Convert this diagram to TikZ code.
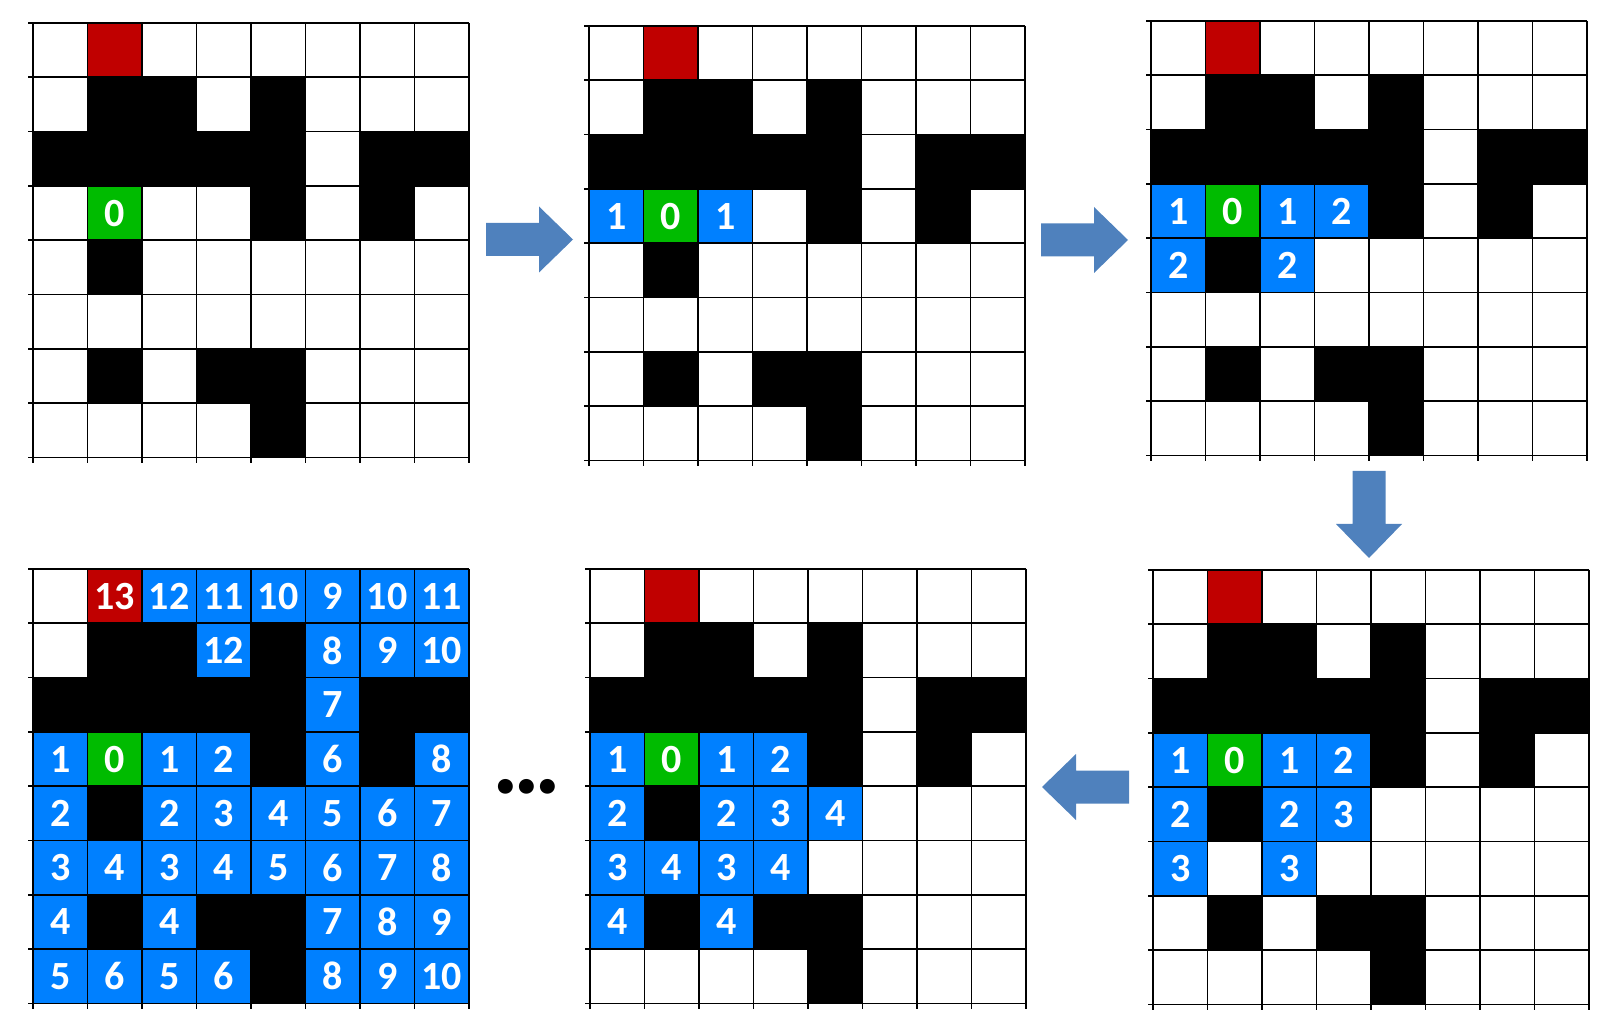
\documentclass[tikz,border=0pt]{standalone}
\usepackage{fontspec}
\setmainfont{Carlito}

\definecolor{cellblue}{RGB}{0,128,255}
\definecolor{startgreen}{RGB}{0,187,0}
\definecolor{goalred}{RGB}{192,0,0}
\definecolor{arrowblue}{RGB}{79,129,189}

\newcommand{\cellw}{54.5}
\newcommand{\cellh}{54.3}

\tikzset{
    cellbox/.style={rectangle, inner sep=0, minimum width=27.25pt, minimum height=27.15pt, text=white, font=\fontsize{20}{24}\selectfont\bfseries},
    gridline/.style={line width=0.85pt, black},
    blockarrow/.pic={\fill[arrowblue] (0,-16.5) -- (53,-16.5) -- (53,-33) -- (87,0) -- (53,33) -- (53,16.5) -- (0,16.5) -- cycle;}
}

% #1 name, #2 x, #3 y, #4 text of goal, #5 numbered cells c/r/value
\newcommand{\mazegrid}[5]{%
    \begin{scope}[shift={(#2,#3)}]
        \foreach \c/\r in {1/1,2/1,4/1,0/2,1/2,2/2,3/2,4/2,6/2,7/2,4/3,6/3,1/4,1/6,3/6,4/6,4/7}
            \fill (\c*\cellw,\r*\cellh) rectangle ++(\cellw,\cellh);
        \node[cellbox,fill=goalred] (Goal#1) at (1.5*\cellw,0.5*\cellh) {#4};
        \node[cellbox,fill=startgreen] (Start#1) at (1.5*\cellw,3.5*\cellh) {0};
        \foreach \c/\r/\v in {#5}
            \node[cellbox,fill=cellblue] (#1-\c-\r) at ({(\c+0.5)*\cellw},{(\r+0.5)*\cellh}) {\v};
        \foreach \i in {0,...,8} {
            \draw[gridline] (\i*\cellw,0) -- (\i*\cellw,8*\cellh+6);
            \draw[gridline] (-5,\i*\cellh) -- (8*\cellw,\i*\cellh);
        }
    \end{scope}}

\begin{document}
\begin{tikzpicture}[x=0.5pt, y=-0.5pt]
    \useasboundingbox (0,0) rectangle (1614,1032);

    \mazegrid{Grid1}{33}{23}{}{}
    \mazegrid{Grid2}{589}{26}{}{0/3/1,2/3/1}
    \mazegrid{Grid3}{1151}{21}{}{0/3/1,2/3/1,3/3/2,0/4/2,2/4/2}
    \mazegrid{Grid4}{1153}{570}{}{0/3/1,2/3/1,3/3/2,0/4/2,2/4/2,3/4/3,0/5/3,2/5/3}
    \mazegrid{Grid5}{590}{569}{}{0/3/1,2/3/1,3/3/2,0/4/2,2/4/2,3/4/3,4/4/4,0/5/3,1/5/4,2/5/3,3/5/4,0/6/4,2/6/4}
    \mazegrid{Grid6}{33}{569}{13}{2/0/12,3/0/11,4/0/10,5/0/9,6/0/10,7/0/11,
        3/1/12,5/1/8,6/1/9,7/1/10,5/2/7,
        0/3/1,2/3/1,3/3/2,5/3/6,7/3/8,
        0/4/2,2/4/2,3/4/3,4/4/4,5/4/5,6/4/6,7/4/7,
        0/5/3,1/5/4,2/5/3,3/5/4,4/5/5,5/5/6,6/5/7,7/5/8,
        0/6/4,2/6/4,5/6/7,6/6/8,7/6/9,
        0/7/5,1/7/6,2/7/5,3/7/6,5/7/8,6/7/9,7/7/10}

    \pic (Arrow1) at (486,239.5) {blockarrow};
    \pic (Arrow2) at (1041,240) {blockarrow};
    \pic[rotate=-90] (Arrow3) at (1369,471) {blockarrow};
    \pic[rotate=180] (Arrow4) at (1129,787) {blockarrow};

    \node[inner sep=0, font=\fontsize{50}{50}\selectfont\bfseries] (Dots) at (527,787) {.\kern-3pt.\kern-3pt.};
\end{tikzpicture}
\end{document}
